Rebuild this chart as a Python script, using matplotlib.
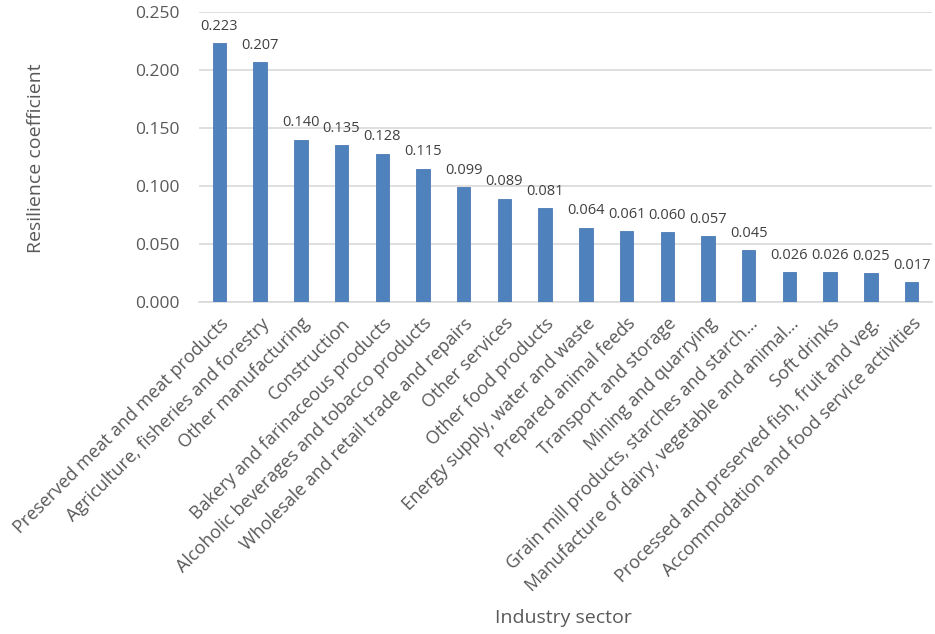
import matplotlib.pyplot as plt
import numpy as np

sectors = [
    "Preserved meat and meat products",
    "Agriculture, fisheries and forestry",
    "Other manufacturing",
    "Construction",
    "Bakery and farinaceous products",
    "Alcoholic beverages and tobacco products",
    "Wholesale and retail trade and repairs",
    "Other services",
    "Other food products",
    "Energy supply, water and waste",
    "Prepared animal feeds",
    "Transport and storage",
    "Mining and quarrying",
    "Grain mill products, starches and starch\u2026",
    "Manufacture of dairy, vegetable and animal\u2026",
    "Soft drinks",
    "Processed and preserved fish, fruit and veg.",
    "Accommodation and food service activities",
]
values = [0.223, 0.207, 0.140, 0.135, 0.128, 0.115, 0.099, 0.089, 0.081,
          0.064, 0.061, 0.060, 0.057, 0.045, 0.026, 0.026, 0.025, 0.017]
yticks = [0.000, 0.050, 0.100, 0.150, 0.200, 0.250]

plt.rcParams['font.family'] = ['Open Sans', 'DejaVu Sans']

fig = plt.figure(figsize=(9.35, 6.34), dpi=100)
ax = fig.add_axes([199 / 935, 1 - 302 / 634, (932 - 199) / 935, 290 / 634])

x = np.arange(len(sectors))
ax.bar(x, values, width=0.33, color="#4f81bd", edgecolor="#4a7ab5", linewidth=0.6, zorder=3)
for xi, v in zip(x, values):
    ax.text(xi, v + 0.008, f"{v:.3f}", ha="center", va="bottom", fontsize=10.5, color="#404040")

ax.set_xlim(-0.5, len(sectors) - 0.5)
ax.set_ylim(0, 0.25)
ax.set_yticks(yticks)
ax.set_yticklabels([f"{t:.3f}" for t in yticks], fontsize=12.5, color="#595959")
ax.set_xticks(x)
ax.set_xticklabels(sectors, rotation=45, ha="right", rotation_mode="anchor",
                   fontsize=13, color="#595959")
ax.tick_params(axis="x", length=0, pad=9)
ax.tick_params(axis="y", length=0, pad=14)
ax.grid(axis="y", color="#d9d9d9", linewidth=1.2, zorder=0)
for side in ["top", "right", "left"]:
    ax.spines[side].set_visible(False)
ax.spines["bottom"].set_color("#d9d9d9")
ax.spines["bottom"].set_linewidth(1.2)

fig.text(36 / 935, 1 - 158 / 634, "Resilience coefficient", rotation=90,
         ha="center", va="center", fontsize=14, color="#595959")
fig.text(563 / 935, 1 - 618 / 634, "Industry sector", ha="center", va="center",
         fontsize=14, color="#595959")

fig.savefig("out.png", dpi=100)
